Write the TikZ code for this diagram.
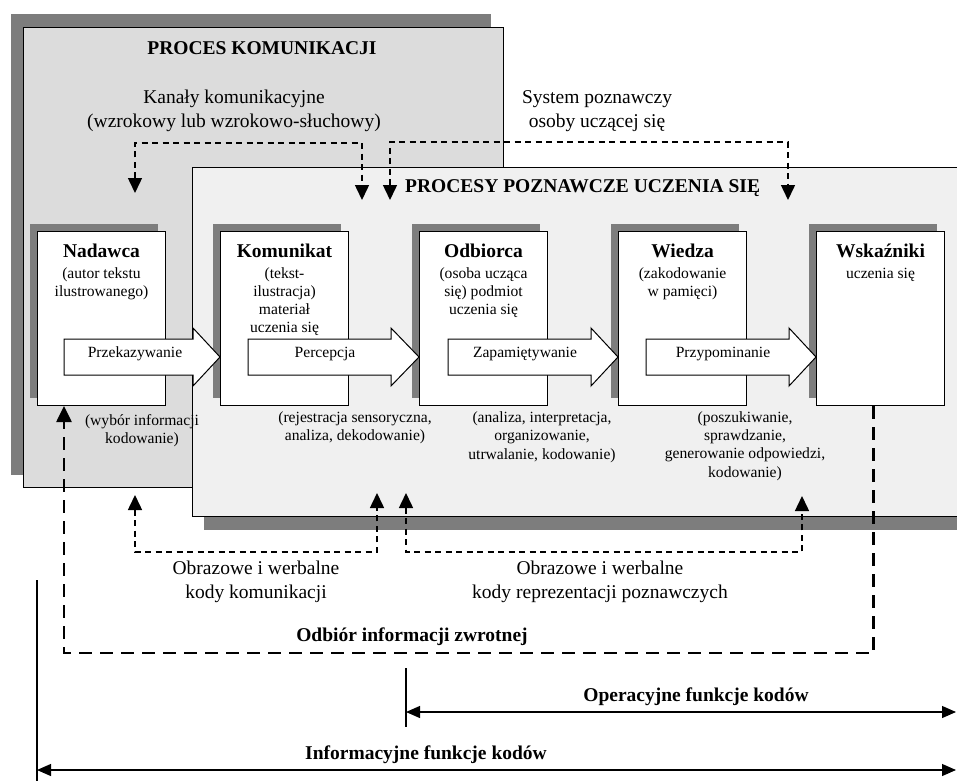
\documentclass[tikz,border=0pt]{standalone}
\usepackage{fontspec}
\setmainfont{Liberation Serif}
\usetikzlibrary{arrows.meta,shadows}
\definecolor{shadowgray}{RGB}{125,125,125}
\definecolor{komgray}{RGB}{220,220,220}
\definecolor{poznfill}{RGB}{240,240,240}
\begin{document}
\begin{tikzpicture}[x=1pt,y=-1pt,
  big/.style={font=\fontsize{19.5}{24.5}\selectfont, align=center, inner sep=0},
  bigb/.style={font=\bfseries\fontsize{19.5}{24}\selectfont, inner sep=0},
  small/.style={font=\fontsize{15.6}{18.3}\selectfont, align=center, inner sep=0},
  bigbox/.style={draw=black, line width=1pt, anchor=north west, inner sep=0},
  procbox/.style={draw=black, line width=1pt, fill=white, anchor=north west,
    minimum width=128pt, minimum height=174pt, inner sep=0,
    drop shadow={shadow xshift=-8pt, shadow yshift=8pt, fill=shadowgray, opacity=1}},
  barrow/.style={draw=black, line width=1pt, fill=white, line join=miter},
  dashline/.style={line width=1.5pt, dash pattern=on 6pt off 4.5pt,
    {Triangle[length=15pt,width=14pt]}-{Triangle[length=15pt,width=14pt]}},
  fbline/.style={line width=2.6pt, dash pattern=on 13pt off 8pt,
    -{Triangle[length=16pt,width=15pt]}},
  dimline/.style={line width=1.2pt,
    {Triangle[length=14pt,width=12pt]}-{Triangle[length=14pt,width=12pt]}},
  tickline/.style={line width=1.2pt}
]
\clip (0,0) rectangle (957,781);
\useasboundingbox (0,0) rectangle (957,781);
\fill[white] (0,0) rectangle (957,781);

% PROCES KOMUNIKACJI
\node[bigbox, fill=komgray, minimum width=480pt, minimum height=460pt,
  drop shadow={shadow xshift=-13pt, shadow yshift=13pt, fill=shadowgray, opacity=1}] (kom) at (23,27) {};
\node[bigb] (komT) at (262,48) {PROCES KOMUNIKACJI};
\node[big] (kanT) at (234,111) {Kanały komunikacyjne\\(wzrokowy lub wzrokowo-słuchowy)};
\node[big] (sysT) at (597,111) {System poznawczy\\osoby uczącej się};

% PROCESY POZNAWCZE
\node[bigbox, fill=poznfill, minimum width=780pt, minimum height=349pt,
  drop shadow={shadow xshift=11pt, shadow yshift=-13pt, fill=shadowgray, opacity=1}] (pozn) at (192,167) {};
\node[bigb, anchor=west] (poznT) at (405,188) {PROCESY POZNAWCZE UCZENIA SIĘ};

% process boxes
\node[procbox] (b1) at (37,231) {};
\node[procbox] (b2) at (220,231) {};
\node[procbox] (b3) at (419,231) {};
\node[procbox] (b4) at (618,231) {};
\node[procbox] (b5) at (816,231) {};

\node[small, anchor=north] (b1t) at ([yshift=-13pt]b1.north)
  {\textbf{\fontsize{19.5}{22}\selectfont Nadawca}\\[2pt](autor tekstu\\ilustrowanego)};
\node[small, anchor=north] (b2t) at ([yshift=-13pt]b2.north)
  {\textbf{\fontsize{19.5}{22}\selectfont Komunikat}\\[2pt](tekst-\\ilustracja)\\materiał\\uczenia się};
\node[small, anchor=north] (b3t) at ([yshift=-13pt]b3.north)
  {\textbf{\fontsize{19.5}{22}\selectfont Odbiorca}\\[2pt](osoba ucząca\\się) podmiot\\uczenia się};
\node[small, anchor=north] (b4t) at ([yshift=-13pt]b4.north)
  {\textbf{\fontsize{19.5}{22}\selectfont Wiedza}\\[2pt](zakodowanie\\w pamięci)};
\node[small, anchor=north] (b5t) at ([yshift=-13pt]b5.north)
  {\textbf{\fontsize{19.5}{22}\selectfont Wskaźniki}\\[2pt]uczenia się};

% block arrows
\draw[barrow] (64,339) -- (193,339) -- (193,328) -- (220,357) -- (193,386) -- (193,375) -- (64,375) -- cycle;
\node[small] (a1t) at (135,354) {Przekazywanie};
\draw[barrow] (248,339) -- (391,339) -- (391,328) -- (419,357) -- (391,386) -- (391,375) -- (248,375) -- cycle;
\node[small] (a2t) at (325,354) {Percepcja};
\draw[barrow] (448,339) -- (591,339) -- (591,328) -- (618,357) -- (591,386) -- (591,375) -- (448,375) -- cycle;
\node[small] (a3t) at (525,354) {Zapamiętywanie};
\draw[barrow] (646,339) -- (789,339) -- (789,328) -- (816,357) -- (789,386) -- (789,375) -- (646,375) -- cycle;
\node[small] (a4t) at (723,354) {Przypominanie};

% texts under boxes
\node[small] (d1) at (142,431) {(wybór informacji\\kodowanie)};
\node[small] (d2) at (355,428) {(rejestracja sensoryczna,\\analiza, dekodowanie)};
\node[small] (d3) at (542,437) {(analiza, interpretacja,\\organizowanie,\\utrwalanie, kodowanie)};
\node[small] (d4) at (745,446) {(poszukiwanie,\\sprawdzanie,\\generowanie odpowiedzi,\\kodowanie)};

% top dashed connectors
\coordinate (kanA) at (135,193);
\coordinate (kanM) at (250,143);
\coordinate (kanB) at (362,200);
\draw[dashline] (kanA) |- (kanM) -| (kanB);
\coordinate (sysA) at (390,200);
\coordinate (sysM) at (590,142);
\coordinate (sysB) at (788,200);
\draw[dashline] (sysA) |- (sysM) -| (sysB);

% bottom code connectors
\coordinate (cLA) at (135,495);
\coordinate (cLM) at (250,552);
\coordinate (cLB) at (377,493);
\draw[dashline] (cLA) |- (cLM) -| (cLB);
\coordinate (cRA) at (406,493);
\coordinate (cRM) at (600,552);
\coordinate (cRB) at (802,496);
\draw[dashline] (cRA) |- (cRM) -| (cRB);

\node[big] (codeL) at (256,582) {Obrazowe i werbalne\\kody komunikacji};
\node[big] (codeR) at (600,582) {Obrazowe i werbalne\\kody reprezentacji poznawczych};

% feedback
\coordinate (fbA) at ([xshift=-7pt]b5.south);
\coordinate (fbM) at (400,653);
\coordinate (fbB) at ([xshift=27pt]b1.south west);
\draw[fbline] (fbA) |- (fbM) -| (fbB);
\node[bigb] (fbT) at (412,637) {Odbiór informacji zwrotnej};

% function arrows
\coordinate (opTop) at (406,668);
\coordinate (opBot) at (406,727);
\draw[tickline] (opTop) -- (opBot);
\coordinate (opL) at (406,712);
\coordinate (opR) at (956,712);
\draw[dimline] (opL) -- (opR);
\node[bigb] (opT) at (696,697) {Operacyjne funkcje kodów};

\coordinate (inTop) at (37,580);
\coordinate (inBot) at (37,781);
\draw[tickline] (inTop) -- (inBot);
\coordinate (inL) at (37,770);
\coordinate (inR) at (956,770);
\draw[dimline] (inL) -- (inR);
\node[bigb] (inT) at (426,755) {Informacyjne funkcje kodów};
\end{tikzpicture}
\end{document}
